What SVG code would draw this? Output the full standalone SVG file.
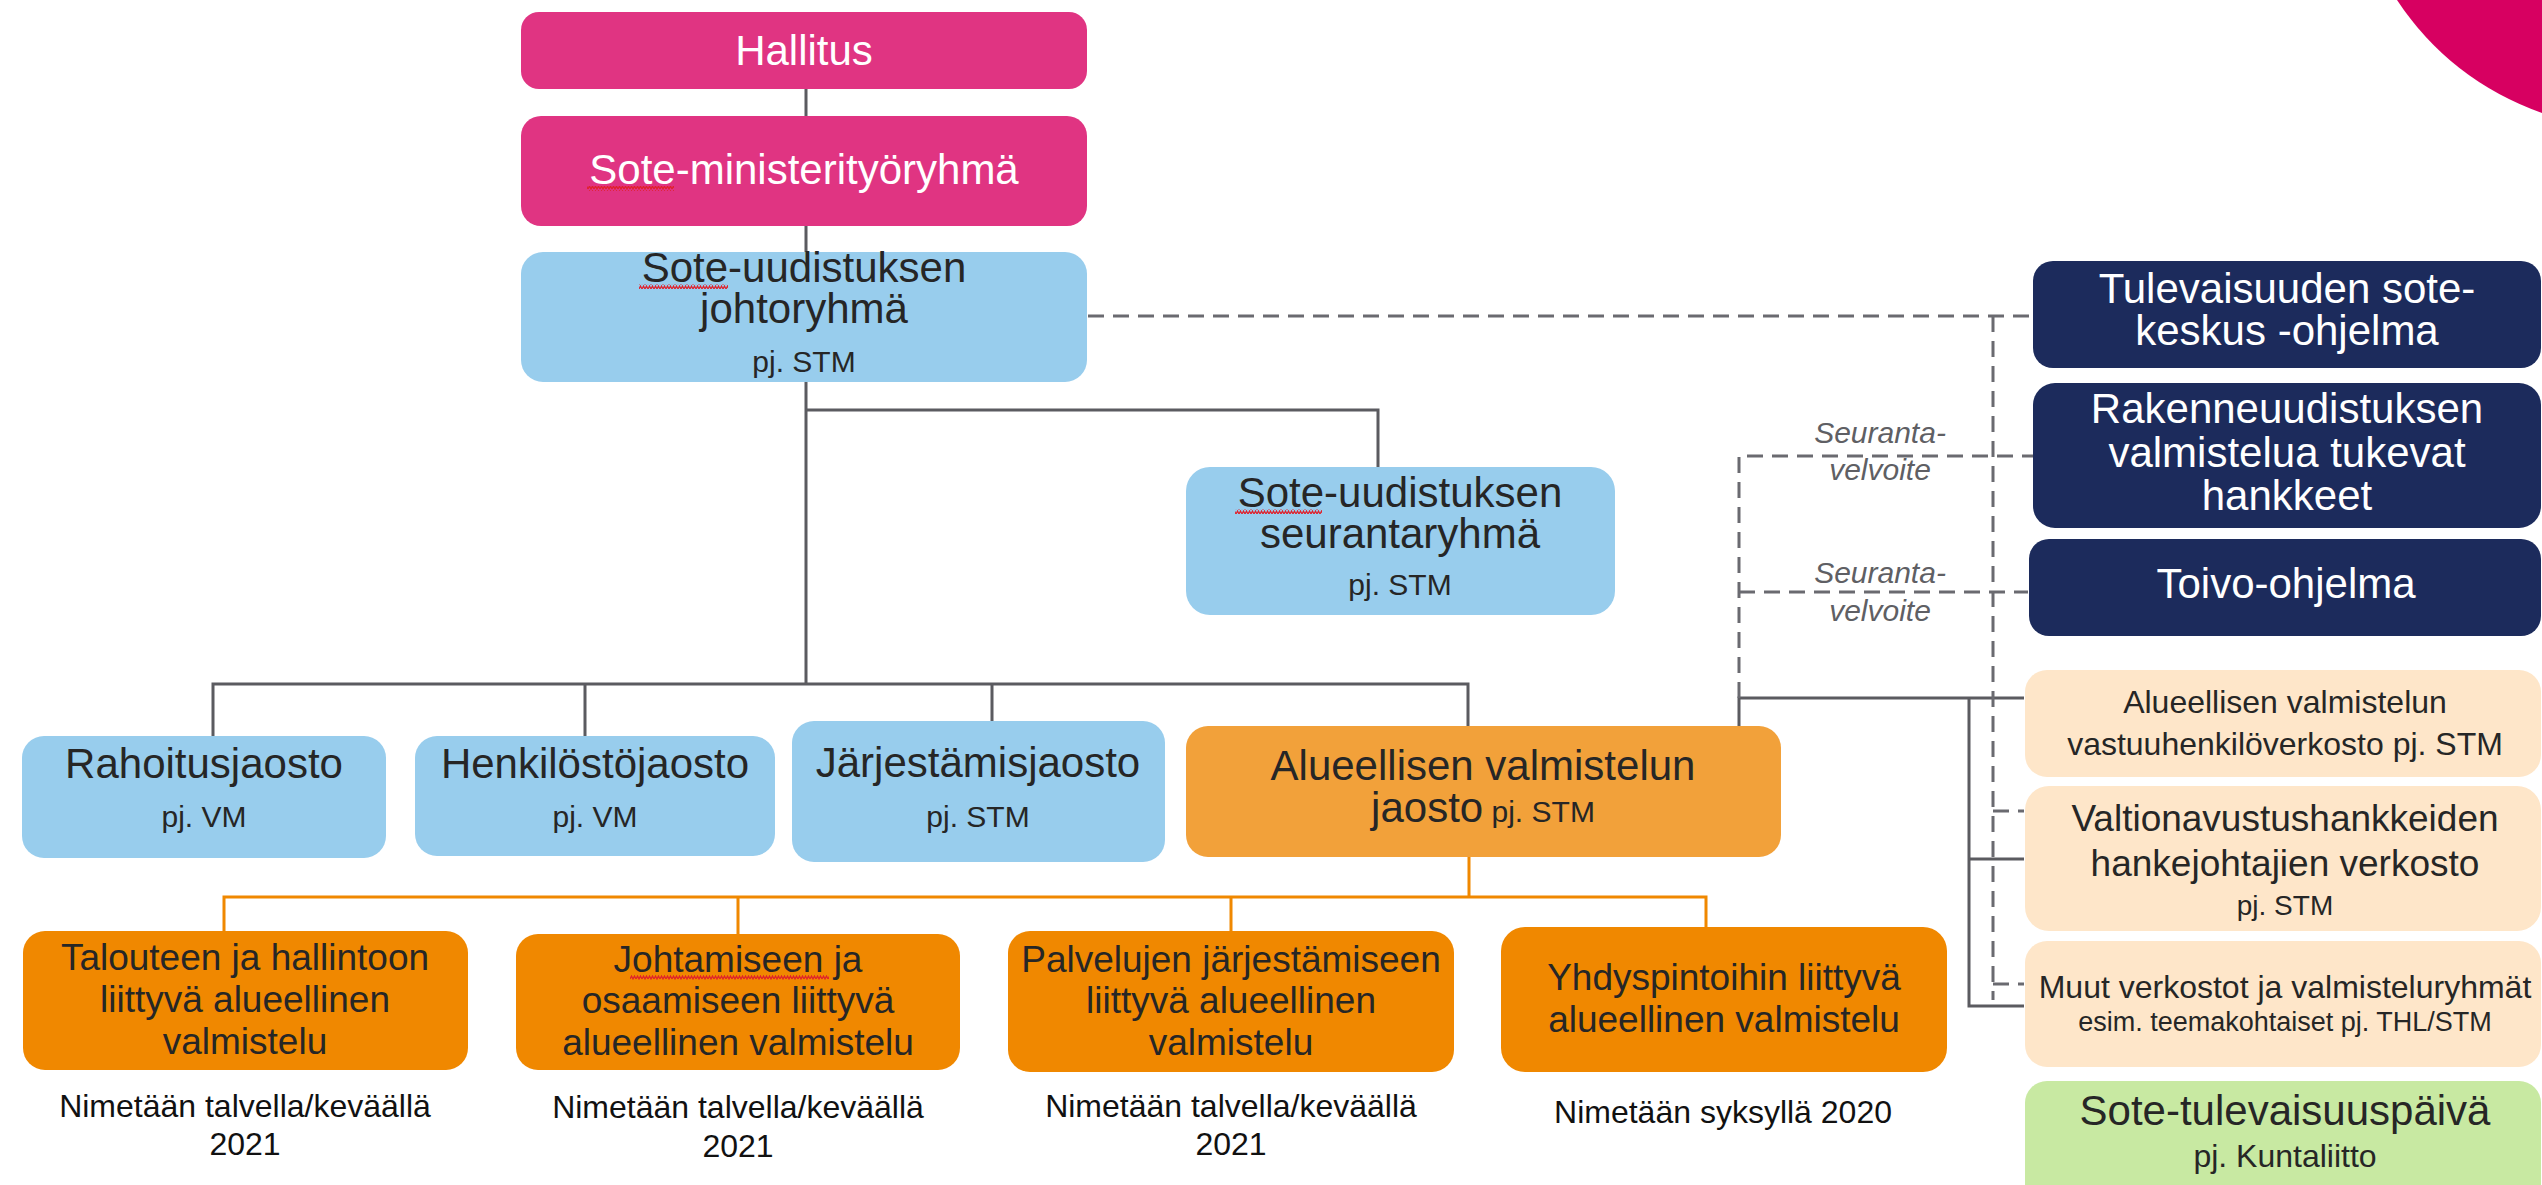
<svg xmlns="http://www.w3.org/2000/svg" width="2542" height="1185" viewBox="0 0 2542 1185">
<style>
text{font-family:"Liberation Sans",Arial,sans-serif;text-anchor:middle}
.pink{fill:#E03482}.blue{fill:#98CDED}.ora1{fill:#F2A13A}.ora2{fill:#F08800}
.navy{fill:#1C2B5C}.peach{fill:#FEE6C9}.green{fill:#C8E9A2}
.w{fill:#FFFFFF}.d{fill:#262626}.k{fill:#111111}
.f42{font-size:42px}.f37{font-size:37px}.f32{font-size:32px}.f30{font-size:30px}.f28{font-size:28px}.f27{font-size:27px}
.gl{fill:none;stroke:#5B5B60;stroke-width:3}
.dl{fill:none;stroke:#6A6A70;stroke-width:3;stroke-dasharray:16 9}
.ol{fill:none;stroke:#F08800;stroke-width:3}
.lab{font-size:30px;font-style:italic;fill:#5F5F64}
.sq{fill:url(#squig)}
</style>
<defs>
<pattern id="squig" width="6" height="5" patternUnits="userSpaceOnUse">
<path d="M0,4 L1.5,1 L3,4 L4.5,1 L6,4" fill="none" stroke="#E0202A" stroke-width="1.2"/>
</pattern>
</defs>
<rect width="2542" height="1185" fill="#FFFFFF"/>
<path d="M2397,0 Q2450,80 2542,113 L2542,0 Z" fill="#D70061"/>

<g id="connectors">
<path class="gl" d="M806,89 V116 M806,226 V252 M806,382 V684 M806,410 H1378 V467 M213,736 V684 H1468 V726 M585,684 V736 M992,684 V721"/>
<path class="gl" d="M1739,742 V698 H2024 M1969,698 V1006 H2024 M1969,859 H2024"/>
<path class="dl" d="M1088,316 H2033 M1993,316 V1000 M1993,811 H2024 M1993,984 H2024 M1739,698 V456 H2033 M1739,592 H2028"/>
<path class="ol" d="M1469,857 V897 M224,931 V897 H1706 V927 M738,897 V934 M1231,897 V931"/>
<text class="lab" x="1880" y="443">Seuranta-</text>
<text class="lab" x="1880" y="480">velvoite</text>
<text class="lab" x="1880" y="583">Seuranta-</text>
<text class="lab" x="1880" y="621">velvoite</text>
</g>

<g id="hallitus">
<rect class="pink" x="521" y="12" width="566" height="77" rx="18"/>
<text class="w f42" x="804" y="65">Hallitus</text>
</g>
<g id="ministerityoryhma">
<rect class="pink" x="521" y="116" width="566" height="110" rx="20"/>
<text class="w f42" x="804" y="184">Sote-ministerityöryhmä</text>
<rect class="sq" x="587" y="186" width="87" height="5"/>
</g>
<g id="johtoryhma">
<rect class="blue" x="521" y="252" width="566" height="130" rx="22"/>
<text class="d f42" x="804" y="282">Sote-uudistuksen</text>
<text class="d f42" x="804" y="323">johtoryhmä</text>
<text class="d f30" x="804" y="372">pj. STM</text>
<rect class="sq" x="639" y="284" width="89" height="5"/>
</g>
<g id="seurantaryhma">
<rect class="blue" x="1186" y="467" width="429" height="148" rx="24"/>
<text class="d f42" x="1400" y="507">Sote-uudistuksen</text>
<text class="d f42" x="1400" y="548">seurantaryhmä</text>
<text class="d f30" x="1400" y="595">pj. STM</text>
<rect class="sq" x="1235" y="509" width="87" height="5"/>
</g>

<g id="rahoitusjaosto">
<rect class="blue" x="22" y="736" width="364" height="122" rx="22"/>
<text class="d f42" x="204" y="778">Rahoitusjaosto</text>
<text class="d f30" x="204" y="827">pj. VM</text>
</g>
<g id="henkilostojaosto">
<rect class="blue" x="415" y="736" width="360" height="120" rx="22"/>
<text class="d f42" x="595" y="778">Henkilöstöjaosto</text>
<text class="d f30" x="595" y="827">pj. VM</text>
</g>
<g id="jarjestamisjaosto">
<rect class="blue" x="792" y="721" width="373" height="141" rx="22"/>
<text class="d f42" x="978" y="777">Järjestämisjaosto</text>
<text class="d f30" x="978" y="827">pj. STM</text>
</g>
<g id="alueellinen-jaosto">
<rect class="ora1" x="1186" y="726" width="595" height="131" rx="22"/>
<text class="d f42" x="1483" y="780">Alueellisen valmistelun</text>
<text class="d" x="1483" y="822"><tspan class="f42">jaosto</tspan><tspan class="f30"> pj. STM</tspan></text>
</g>

<g id="talouteen">
<rect class="ora2" x="23" y="931" width="445" height="139" rx="22"/>
<text class="d f37" x="245" y="970">Talouteen ja hallintoon</text>
<text class="d f37" x="245" y="1012">liittyvä alueellinen</text>
<text class="d f37" x="245" y="1054">valmistelu</text>
<text class="k f32" x="245" y="1117">Nimetään talvella/keväällä</text>
<text class="k f32" x="245" y="1155">2021</text>
</g>
<g id="johtamiseen">
<rect class="ora2" x="516" y="934" width="444" height="136" rx="22"/>
<text class="d f37" x="738" y="972">Johtamiseen ja</text>
<text class="d f37" x="738" y="1013">osaamiseen liittyvä</text>
<text class="d f37" x="738" y="1055">alueellinen valmistelu</text>
<rect class="sq" x="630" y="975" width="199" height="5"/>
<text class="k f32" x="738" y="1118">Nimetään talvella/keväällä</text>
<text class="k f32" x="738" y="1157">2021</text>
</g>
<g id="palvelujen">
<rect class="ora2" x="1008" y="931" width="446" height="141" rx="22"/>
<text class="d f37" x="1231" y="972">Palvelujen järjestämiseen</text>
<text class="d f37" x="1231" y="1013">liittyvä alueellinen</text>
<text class="d f37" x="1231" y="1055">valmistelu</text>
<text class="k f32" x="1231" y="1117">Nimetään talvella/keväällä</text>
<text class="k f32" x="1231" y="1155">2021</text>
</g>
<g id="yhdyspintoihin">
<rect class="ora2" x="1501" y="927" width="446" height="145" rx="24"/>
<text class="d f37" x="1724" y="990">Yhdyspintoihin liittyvä</text>
<text class="d f37" x="1724" y="1032">alueellinen valmistelu</text>
<text class="k f32" x="1723" y="1123">Nimetään syksyllä 2020</text>
</g>

<g id="tulevaisuuden">
<rect class="navy" x="2033" y="261" width="508" height="107" rx="20"/>
<text class="w f42" x="2287" y="303">Tulevaisuuden sote-</text>
<text class="w f42" x="2287" y="345">keskus -ohjelma</text>
</g>
<g id="rakenneuudistuksen">
<rect class="navy" x="2033" y="383" width="508" height="145" rx="22"/>
<text class="w f42" x="2287" y="423">Rakenneuudistuksen</text>
<text class="w f42" x="2287" y="467">valmistelua tukevat</text>
<text class="w f42" x="2287" y="510">hankkeet</text>
</g>
<g id="toivo">
<rect class="navy" x="2029" y="539" width="512" height="97" rx="20"/>
<text class="w f42" x="2286" y="598">Toivo-ohjelma</text>
</g>
<g id="vastuuhenkiloverkosto">
<rect class="peach" x="2025" y="670" width="516" height="107" rx="22"/>
<text class="d f32" x="2285" y="713">Alueellisen valmistelun</text>
<text class="d f32" x="2285" y="755">vastuuhenkilöverkosto pj. STM</text>
</g>
<g id="valtionavustus">
<rect class="peach" x="2025" y="786" width="516" height="145" rx="24"/>
<text class="d f37" x="2285" y="831">Valtionavustushankkeiden</text>
<text class="d f37" x="2285" y="876">hankejohtajien verkosto</text>
<text class="d f28" x="2285" y="915">pj. STM</text>
</g>
<g id="muut-verkostot">
<rect class="peach" x="2025" y="941" width="516" height="126" rx="22"/>
<text class="d f32" x="2285" y="998">Muut verkostot ja valmisteluryhmät</text>
<text class="d f27" x="2285" y="1031">esim. teemakohtaiset pj. THL/STM</text>
</g>
<g id="sote-tulevaisuuspaiva">
<rect class="green" x="2025" y="1081" width="516" height="130" rx="22"/>
<text class="d f42" x="2285" y="1125">Sote-tulevaisuuspäivä</text>
<text class="d f32" x="2285" y="1167">pj. Kuntaliitto</text>
</g>
</svg>
